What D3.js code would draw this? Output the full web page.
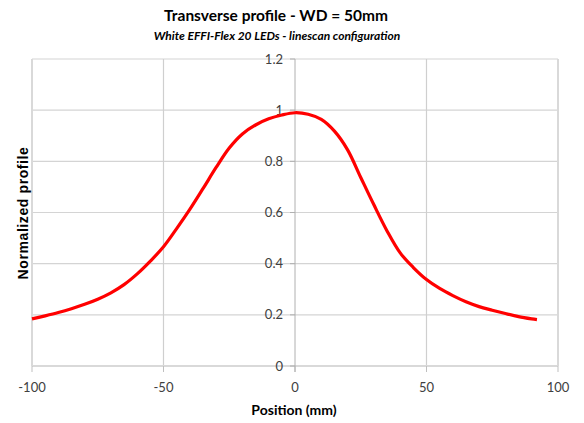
<!DOCTYPE html>
<html>
<head>
<meta charset="utf-8">
<script src="https://cdn.jsdelivr.net/npm/d3@7"></script>
<style>
  body { margin: 0; background: #fff; }
  svg { display: block; }
</style>
</head>
<body>
<svg id="chart" width="584" height="423"></svg>
<script>
// profile values
const positions = [-100, -95, -90, -85, -80, -75, -70, -65, -60, -55, -50, -45, -40, -35, -30, -25, -20, -15, -10, -5,
    0, 5, 10, 15, 20, 25, 30, 35, 40, 45, 50, 55, 60, 65, 70, 75, 80, 85, 90, 92];
const profile = [0.184, 0.196, 0.209, 0.224, 0.241, 0.261, 0.286, 0.318, 0.36, 0.41, 0.466, 0.537, 0.612, 0.693, 0.776, 0.852, 0.907, 0.942, 0.966, 0.981,
    0.99, 0.984, 0.964, 0.918, 0.845, 0.737, 0.630, 0.528, 0.442, 0.385, 0.338, 0.303, 0.275, 0.251, 0.232, 0.218, 0.205, 0.193, 0.184, 0.181];
const xTicks = [-100, -50, 0, 50, 100];
const yTicks = [0, 0.2, 0.4, 0.6, 0.8, 1, 1.2];

const title = "Transverse profile - WD = 50mm";
const subtitle = "White EFFI-Flex 20 LEDs - linescan configuration";

const svg = d3.select('#chart');
const plotLeft = 32, plotRight = 558, plotTop = 59, plotBottom = 366;

const x = d3.scaleLinear().domain([-100, 100]).range([plotLeft, plotRight]);
const y = d3.scaleLinear().domain([0, 1.2]).range([plotBottom, plotTop]);

// horizontal grid
svg.append('g').selectAll('line')
    .data(yTicks.filter(d => d > 0))
    .enter().append('line')
    .attr('x1', plotLeft).attr('x2', plotRight)
    .attr('y1', d => y(d)).attr('y2', d => y(d))
    .style('stroke', '#d4d4d4').style('stroke-width', 1.2);

// vertical grid
svg.append('g').selectAll('line')
    .data(xTicks.filter(d => d != 0))
    .enter().append('line')
    .attr('x1', d => x(d)).attr('x2', d => x(d))
    .attr('y1', plotTop).attr('y2', plotBottom)
    .style('stroke', d => Math.abs(d) == 100 ? '#d9d9d9' : '#cfcfcf')
    .style('stroke-width', d => Math.abs(d) == 100 ? 2 : 1.2);

// x axis line + ticks
svg.append('line')
    .attr('x1', plotLeft).attr('x2', plotRight)
    .attr('y1', plotBottom).attr('y2', plotBottom)
    .style('stroke', '#d9d9d9').style('stroke-width', 2);
svg.append('g').selectAll('line')
    .data(xTicks)
    .enter().append('line')
    .attr('x1', d => x(d)).attr('x2', d => x(d))
    .attr('y1', plotBottom).attr('y2', plotBottom + 6)
    .style('stroke', '#bfbfbf').style('stroke-width', 1);

// y axis at x=0
svg.append('line')
    .attr('x1', x(0)).attr('x2', x(0))
    .attr('y1', plotTop).attr('y2', plotBottom + 6)
    .style('stroke', '#b0b0b0').style('stroke-width', 1);
svg.append('g').selectAll('line')
    .data(yTicks)
    .enter().append('line')
    .attr('x1', x(0) - 5).attr('x2', x(0))
    .attr('y1', d => y(d)).attr('y2', d => y(d))
    .style('stroke', '#b0b0b0').style('stroke-width', 1);

// tick labels
svg.append('g').selectAll('text')
    .data(yTicks)
    .enter().append('text')
    .attr('x', x(0) - 12).attr('y', d => y(d) + 4.5)
    .attr('text-anchor', 'end')
    .style('font-family', 'Lato, sans-serif').style('font-size', '13px').style('fill', '#404040')
    .text(d => d);

svg.append('g').selectAll('text')
    .data(xTicks)
    .enter().append('text')
    .attr('x', d => x(d)).attr('y', 392)
    .attr('text-anchor', 'middle')
    .style('font-family', 'Lato, sans-serif').style('font-size', '13px').style('fill', '#404040')
    .text(d => d);

// the profile curve
const line = d3.line()
    .x((d, i) => x(positions[i]))
    .y(d => y(d))
    .curve(d3.curveCatmullRom);

svg.append('path')
    .datum(profile)
    .attr('d', line)
    .style('fill', 'none')
    .style('stroke', '#ff0000')
    .style('stroke-width', 3.2)
    .style('stroke-linejoin', 'round');

// titles
svg.append('text')
    .attr('x', 276).attr('y', 21)
    .attr('text-anchor', 'middle')
    .style('font-family', 'Lato, sans-serif').style('font-weight', 'bold').style('font-size', '15.5px')
    .text(title);
svg.append('text')
    .attr('x', 277).attr('y', 40)
    .attr('text-anchor', 'middle')
    .style('font-family', 'Lato, sans-serif').style('font-weight', 'bold').style('font-style', 'italic').style('font-size', '12px')
    .text(subtitle);

svg.append('text')
    .attr('x', 294).attr('y', 415)
    .attr('text-anchor', 'middle')
    .style('font-family', 'Lato, sans-serif').style('font-weight', 'bold').style('font-size', '14px')
    .text('Position (mm)');

svg.append('text')
    .attr('transform', 'translate(28,213) rotate(-90)')
    .attr('text-anchor', 'middle')
    .style('font-family', 'Liberation Sans, Arial, sans-serif').style('font-weight', 'bold').style('font-size', '14px')
    .style('letter-spacing', '0.6px')
    .text('Normalized profile');
</script>
</body>
</html>
